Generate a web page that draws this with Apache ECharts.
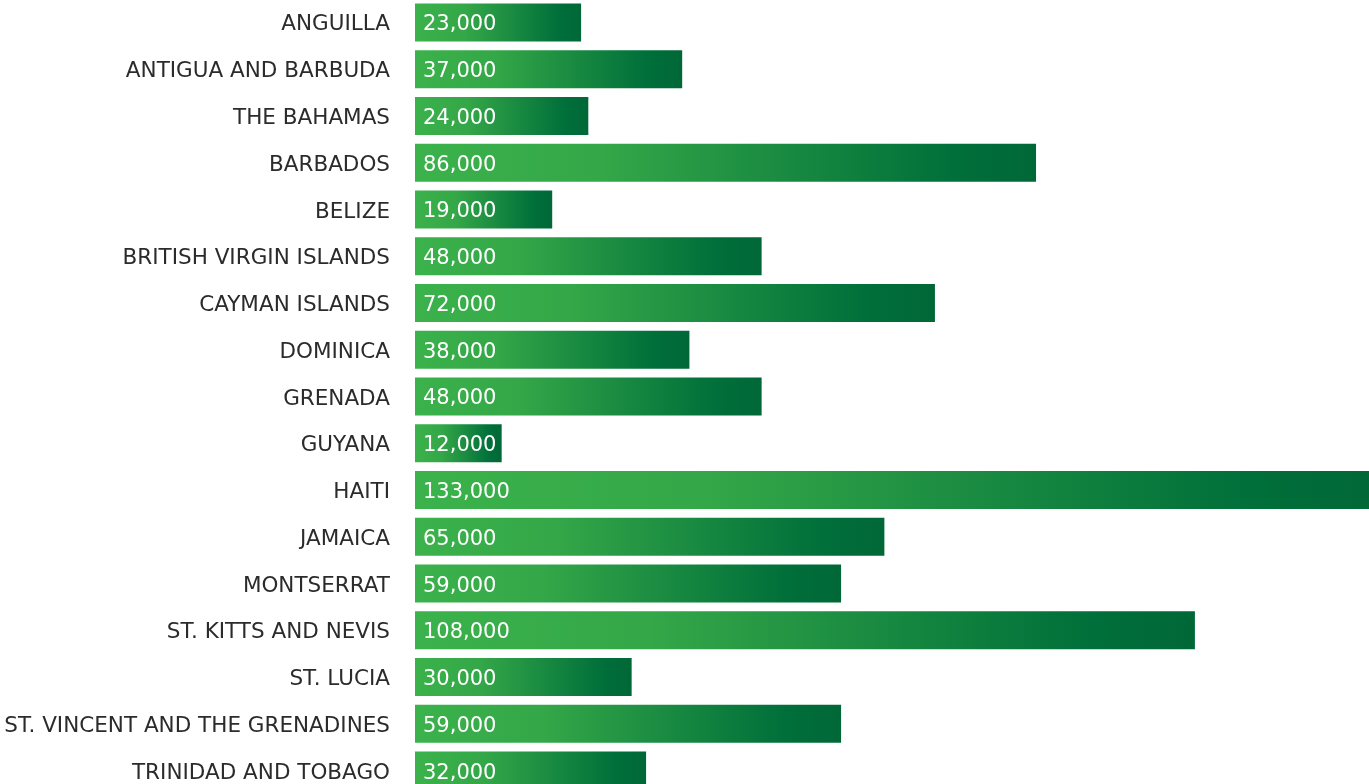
<!DOCTYPE html>
<html>
<head>
<meta charset="utf-8">
<script src="https://cdn.jsdelivr.net/npm/echarts@6/dist/echarts.min.js"></script>
<style>
html,body{margin:0;padding:0;background:#fff;}
#chart{width:1369px;height:784px;}
</style>
</head>
<body>
<div id="chart"></div>
<script>
const categories = ["ANGUILLA","ANTIGUA AND BARBUDA","THE BAHAMAS","BARBADOS","BELIZE","BRITISH VIRGIN ISLANDS","CAYMAN ISLANDS","DOMINICA","GRENADA","GUYANA","HAITI","JAMAICA","MONTSERRAT","ST. KITTS AND NEVIS","ST. LUCIA","ST. VINCENT AND THE GRENADINES","TRINIDAD AND TOBAGO"];
const values = [23000,37000,24000,86000,19000,48000,72000,38000,48000,12000,133000,65000,59000,108000,30000,59000,32000];

const chart = echarts.init(document.getElementById('chart'), null, {renderer:'canvas'});
const grad = new echarts.graphic.LinearGradient(0,0,1,0,[
  {offset:0,color:'#3bb24b'},
  {offset:0.3,color:'#34a748'},
  {offset:0.87,color:'#006f3a'},
  {offset:1,color:'#006837'}
]);
chart.setOption({
  animation:false,
  grid:{left:415, top:-1, width:1011, height:795, containLabel:false, outerBoundsMode:'none'},
  xAxis:{type:'value', min:0, max:140000, show:false},
  yAxis:{type:'category', data:categories, inverse:true,
    axisLine:{show:false}, axisTick:{show:false}, splitLine:{show:false},
    axisLabel:{color:'#2b2b2b', fontFamily:'DejaVu Sans', fontSize:21.5, margin:25,
      verticalAlign:'top', lineHeight:5}
  },
  series:[{
    type:'bar', data:values, barWidth:38,
    itemStyle:{color:grad},
    label:{show:true, position:'insideLeft', distance:8, offset:[0,2.5], color:'#fff',
      fontFamily:'DejaVu Sans', fontSize:21,
      formatter:p=>p.value.toLocaleString('en-US')}
  }]
});
</script>
</body>
</html>
